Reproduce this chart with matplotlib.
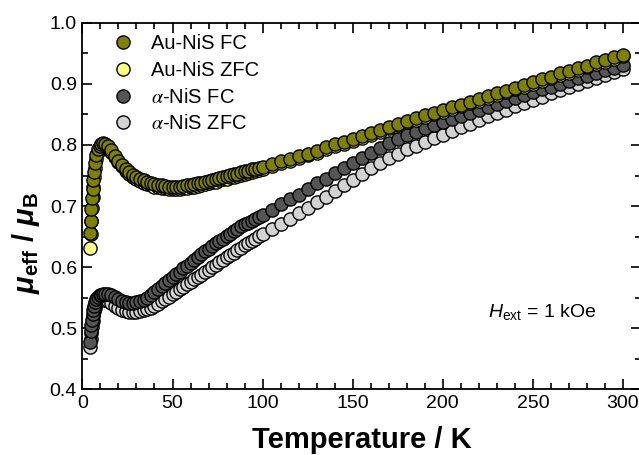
import matplotlib
matplotlib.use('Agg')
import matplotlib.pyplot as plt
from matplotlib.ticker import MultipleLocator

plt.rcParams['font.family'] = ['Liberation Sans', 'DejaVu Sans']
plt.rcParams['mathtext.fontset'] = 'custom'
plt.rcParams['mathtext.rm'] = 'Liberation Sans'
plt.rcParams['mathtext.it'] = 'Liberation Sans:italic'
plt.rcParams['mathtext.bf'] = 'Liberation Sans:bold'
plt.rcParams['mathtext.bfit'] = 'Liberation Sans:italic:bold'

# Data (temperature in K, effective moment in Bohr magnetons)
temp = [4.2, 4.5, 4.8, 5.2, 5.6, 6.0, 6.5, 7.0, 7.7, 8.5, 9.5, 10.5, 11.5, 12.5,
        14, 16, 18, 20, 22, 24, 26, 28, 30, 32, 34, 36, 38, 40, 42, 44, 46, 48,
        50, 52, 54, 56, 58, 60, 62, 64, 66, 68, 70, 72, 74, 76, 78, 80, 82, 84,
        86, 88, 90, 92, 94, 96, 98, 100,
        105, 110, 115, 120, 125, 130, 135, 140, 145, 150, 155, 160, 165, 170,
        175, 180, 185, 190, 195, 200, 205, 210, 215, 220, 225, 230, 235, 240,
        245, 250, 255, 260, 265, 270, 275, 280, 285, 290, 295, 300]

au_fc = [0.656, 0.676, 0.695, 0.713, 0.728, 0.742, 0.756, 0.770, 0.784, 0.793, 0.799, 0.802, 0.803, 0.802,
         0.798, 0.791, 0.782, 0.774, 0.767, 0.761, 0.756, 0.751, 0.748, 0.745, 0.742, 0.740, 0.738, 0.736,
         0.735, 0.734, 0.733, 0.732, 0.732, 0.732, 0.732, 0.733, 0.734, 0.735, 0.736, 0.737, 0.738, 0.740,
         0.741, 0.743, 0.744, 0.746, 0.748, 0.749, 0.751, 0.752, 0.753, 0.755, 0.757, 0.758, 0.760, 0.761,
         0.763, 0.764,
         0.769, 0.773, 0.777, 0.782, 0.786, 0.790, 0.796, 0.801, 0.805, 0.810, 0.815, 0.820, 0.825, 0.830,
         0.835, 0.840, 0.844, 0.849, 0.853, 0.857, 0.862, 0.866, 0.871, 0.875, 0.880, 0.885, 0.889, 0.894,
         0.898, 0.903, 0.908, 0.912, 0.917, 0.921, 0.926, 0.930, 0.935, 0.939, 0.944, 0.948]

au_zfc = [0.631, 0.655, 0.676, 0.697, 0.715, 0.731, 0.747, 0.762, 0.777, 0.788, 0.795, 0.799, 0.800, 0.800,
          0.796, 0.789, 0.780, 0.772, 0.765, 0.758, 0.753, 0.748, 0.744, 0.741, 0.738, 0.736, 0.734, 0.732,
          0.731, 0.730, 0.729, 0.728, 0.728, 0.728, 0.728, 0.729, 0.730, 0.731, 0.732, 0.733, 0.734, 0.736,
          0.737, 0.739, 0.740, 0.742, 0.744, 0.745, 0.747, 0.748, 0.749, 0.751, 0.753, 0.754, 0.756, 0.757,
          0.759, 0.760,
          0.766, 0.770, 0.774, 0.779, 0.783, 0.787, 0.793, 0.798, 0.802, 0.807, 0.812, 0.817, 0.822, 0.827,
          0.832, 0.837, 0.841, 0.846, 0.850, 0.854, 0.859, 0.863, 0.868, 0.872, 0.877, 0.882, 0.886, 0.891,
          0.895, 0.900, 0.905, 0.909, 0.914, 0.918, 0.923, 0.927, 0.932, 0.936, 0.941, 0.945]

ni_fc = [0.478, 0.495, 0.505, 0.514, 0.523, 0.530, 0.537, 0.543, 0.548, 0.552, 0.554, 0.555, 0.556, 0.556,
         0.556, 0.555, 0.552, 0.548, 0.545, 0.543, 0.542, 0.542, 0.543, 0.545, 0.547, 0.550, 0.554, 0.559,
         0.564, 0.569, 0.574, 0.579, 0.584, 0.589, 0.593, 0.598, 0.602, 0.607, 0.612, 0.616, 0.621, 0.626,
         0.630, 0.635, 0.639, 0.643, 0.647, 0.651, 0.655, 0.659, 0.663, 0.667, 0.670, 0.673, 0.676, 0.679,
         0.682, 0.685,
         0.694, 0.703, 0.711, 0.719, 0.728, 0.737, 0.745, 0.754, 0.762, 0.771, 0.779, 0.787, 0.795, 0.803,
         0.810, 0.816, 0.822, 0.827, 0.832, 0.837, 0.842, 0.847, 0.852, 0.857, 0.862, 0.867, 0.872, 0.877,
         0.881, 0.886, 0.891, 0.895, 0.900, 0.904, 0.909, 0.913, 0.918, 0.922, 0.926, 0.931]

ni_zfc = [0.469, 0.482, 0.493, 0.503, 0.512, 0.520, 0.528, 0.534, 0.540, 0.544, 0.547, 0.548, 0.548, 0.547,
          0.545, 0.541, 0.537, 0.533, 0.530, 0.528, 0.527, 0.527, 0.527, 0.528, 0.530, 0.532, 0.534, 0.537,
          0.540, 0.544, 0.548, 0.552, 0.556, 0.560, 0.564, 0.568, 0.572, 0.576, 0.580, 0.584, 0.588, 0.592,
          0.596, 0.600, 0.604, 0.608, 0.612, 0.616, 0.620, 0.624, 0.628, 0.632, 0.636, 0.639, 0.643, 0.647,
          0.651, 0.655,
          0.663, 0.671, 0.679, 0.688, 0.697, 0.706, 0.715, 0.724, 0.734, 0.743, 0.753, 0.762, 0.770, 0.778,
          0.786, 0.793, 0.799, 0.805, 0.811, 0.817, 0.823, 0.829, 0.835, 0.841, 0.847, 0.852, 0.858, 0.863,
          0.869, 0.874, 0.879, 0.885, 0.890, 0.895, 0.900, 0.905, 0.910, 0.915, 0.919, 0.924]

labels = ['Au-NiS FC', 'Au-NiS ZFC', r'$\alpha$-NiS FC', r'$\alpha$-NiS ZFC']
colors = ['#808000', '#ffff80', '#555555', '#d3d3d3']

fig = plt.figure(figsize=(6.39, 4.55), dpi=100)
ax = fig.add_axes([0.129, 0.144, 0.874, 0.806])

mk = dict(marker='o', linestyle='none', markersize=9.5, markeredgecolor='black', markeredgewidth=1.0)
# drawn bottom-up so the FC curves sit on top
h4, = ax.plot(temp, ni_zfc, markerfacecolor=colors[3], label=labels[3], **mk)
h3, = ax.plot(temp, ni_fc, markerfacecolor=colors[2], label=labels[2], **mk)
h2, = ax.plot(temp, au_zfc, markerfacecolor=colors[1], label=labels[1], **mk)
h1, = ax.plot(temp, au_fc, markerfacecolor=colors[0], label=labels[0], **mk)

ax.set_xlim(0, 310)
ax.set_ylim(0.4, 1.0)
ax.xaxis.set_major_locator(MultipleLocator(50))
ax.xaxis.set_minor_locator(MultipleLocator(10))
ax.yaxis.set_major_locator(MultipleLocator(0.1))
ax.yaxis.set_minor_locator(MultipleLocator(0.05))
ax.tick_params(which='both', direction='in', top=True, right=True, width=1.2, labelsize=14)
ax.tick_params(which='major', length=7, pad=4)
ax.tick_params(which='minor', length=4)
for s in ax.spines.values():
    s.set_linewidth(1.3)

ax.set_xlabel('Temperature / K', fontsize=21, fontweight='bold')
ax.xaxis.set_label_coords(0.5, -0.1)
ax.set_ylabel(r'$\mathbfit{\mu}_{\mathbf{eff}}$ / $\mathbfit{\mu}_{\mathbf{B}}$',
              fontsize=21, fontweight='bold')
ax.yaxis.set_label_coords(-0.072, 0.40)

leg = ax.legend(handles=[h1, h2, h3, h4], loc='upper left', bbox_to_anchor=(0.04, 0.99),
                frameon=False, fontsize=14.5, handlelength=1.0, handletextpad=0.9,
                labelspacing=0.38, borderaxespad=0)
for t in leg.get_texts()[2:]:
    t.set_math_fontfamily('stix')

ax.text(225, 0.527, r'$H_{\mathrm{ext}}$ = 1 kOe', fontsize=14, va='center')

fig.savefig('out.png', dpi=100)
